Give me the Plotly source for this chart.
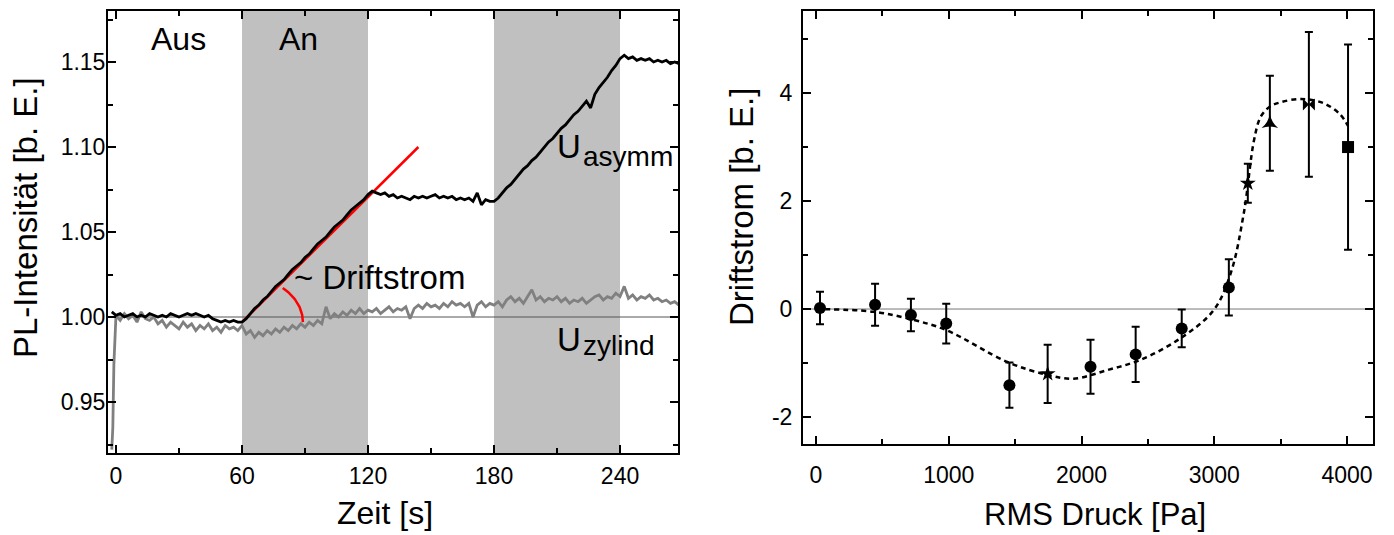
import numpy as np
import plotly.graph_objects as go

W, H = 1394, 535

# ---------------- Left panel data ----------------
zeit_x_ticks = [0, 60, 120, 180, 240]
on_phases = [(60, 120), (180, 240)]

t_asym = list(range(-2, 270, 2))
u_asym = [1.003, 1.001, 1.002, 1.000, 1.001, 1.002, 1.000, 1.001, 1.000, 1.002,
          1.001, 1.000, 1.001, 1.000, 1.002, 1.001, 1.000, 1.001, 1.002, 1.001,
          1.002, 1.001, 1.000, 1.001, 0.999, 0.998, 0.997, 0.998, 0.997, 0.998,
          0.997, 0.997, 0.999, 1.002, 1.005, 1.007, 1.010, 1.012, 1.015, 1.018,
          1.020, 1.022, 1.025, 1.028, 1.030, 1.032, 1.035, 1.037, 1.040, 1.043,
          1.045, 1.047, 1.050, 1.053, 1.055, 1.057, 1.060, 1.063, 1.065, 1.067,
          1.069, 1.072, 1.074, 1.073, 1.072, 1.073, 1.071, 1.072, 1.070, 1.071,
          1.070, 1.069, 1.071, 1.070, 1.071, 1.070, 1.071, 1.072, 1.070, 1.071,
          1.070, 1.071, 1.069, 1.070, 1.069, 1.070, 1.068, 1.073, 1.066, 1.069,
          1.068, 1.068, 1.070, 1.073, 1.076, 1.078, 1.081, 1.084, 1.087, 1.089,
          1.092, 1.094, 1.097, 1.100, 1.103, 1.105, 1.108, 1.111, 1.113, 1.116,
          1.119, 1.121, 1.124, 1.127, 1.123, 1.131, 1.135, 1.138, 1.141, 1.145,
          1.148, 1.152, 1.154, 1.152, 1.153, 1.151, 1.152, 1.151, 1.152, 1.150,
          1.151, 1.150, 1.151, 1.149, 1.150, 1.149]

t_zyl = [-2.0, -1.5, -1.0, -0.5] + list(range(0, 270, 2))
u_zyl = [0.922, 0.935, 0.972, 0.993,
         1.001, 0.998, 1.002, 0.999, 1.001, 0.997, 1.003, 0.999, 0.998, 1.000,
         0.996, 0.998, 0.994, 0.997, 0.995, 0.993, 0.997, 0.994, 0.996, 0.992,
         0.995, 0.993, 0.996, 0.992, 0.994, 0.991, 0.995, 0.993, 0.994, 0.992,
         0.995, 0.990, 0.992, 0.988, 0.991, 0.989, 0.992, 0.990, 0.993, 0.991,
         0.994, 0.992, 0.995, 0.993, 0.996, 0.994, 0.997, 0.995, 0.998, 0.996,
         1.006, 0.999, 1.002, 1.000, 1.003, 1.001, 1.004, 1.002, 1.005, 1.002,
         1.004, 1.003, 1.005, 1.002, 1.004, 1.006, 1.003, 1.005, 1.004, 1.006,
         0.999, 1.005, 1.007, 1.005, 1.008, 1.006, 1.007, 1.005, 1.008, 1.006,
         1.009, 1.007, 1.008, 1.006, 1.008, 1.000, 1.007, 1.009, 1.006, 1.008,
         1.007, 1.009, 1.006, 1.010, 1.012, 1.009, 1.011, 1.008, 1.012, 1.016,
         1.010, 1.012, 1.009, 1.011, 1.010, 1.012, 1.009, 1.011, 1.008, 1.010,
         1.009, 1.011, 1.008, 1.010, 1.012, 1.013, 1.010, 1.012, 1.011, 1.014,
         1.012, 1.018, 1.011, 1.013, 1.010, 1.012, 1.011, 1.013, 1.010, 1.011,
         1.009, 1.010, 1.008, 1.009, 1.007]

# red tangent line (start, end) and the angle arc around its start
fit_line_t = [60, 144]
fit_line_u = [0.997, 1.100]
arc_rx, arc_ry, arc_deg = 29.0, 0.027, 48.0

# ---------------- Right panel data ----------------
druck = [30, 445, 715, 981, 1457, 1745, 2068, 2408, 2755, 3110, 3253, 3419, 3713, 4008]
drift = [0.02, 0.08, -0.11, -0.27, -1.41, -1.20, -1.07, -0.84, -0.36, 0.40, 2.33, 3.44, 3.79, 3.00]
drift_err = [0.30, 0.39, 0.30, 0.37, 0.42, 0.54, 0.50, 0.51, 0.35, 0.52, 0.36, 0.88, 1.34, 1.90]
symbols = ['circle'] * 5 + ['star'] + ['circle'] * 4 + ['star', 'star-triangle-up', 'bowtie', 'square']

drift_y_ticks = [-2, 0, 2, 4]
drift_y_labels = ['-2', '0', '2', '4']

fit_p = [0, 430, 732, 981, 1441, 1743, 1940, 2196, 2445, 2747, 2996, 3125, 3223, 3300,
         3350, 3420, 3502, 3653, 3826, 3950, 4008]
fit_d = [0.0, -0.05, -0.20, -0.39, -0.98, -1.22, -1.29, -1.13, -0.94, -0.54, -0.02, 0.67,
         1.78, 3.13, 3.56, 3.75, 3.83, 3.89, 3.81, 3.60, 3.39]

FONT = "Liberation Sans, Arial, sans-serif"

fig = go.Figure()

# left traces
fig.add_trace(go.Scatter(x=[-10, 280], y=[1.0, 1.0], mode='lines',
                         line=dict(color='#555555', width=1), xaxis='x', yaxis='y', hoverinfo='skip'))
fig.add_trace(go.Scatter(x=t_zyl, y=u_zyl, mode='lines',
                         line=dict(color='#808080', width=2.8), xaxis='x', yaxis='y'))
fig.add_trace(go.Scatter(x=fit_line_t, y=fit_line_u, mode='lines',
                         line=dict(color='#ff0000', width=2.5), xaxis='x', yaxis='y'))
fig.add_trace(go.Scatter(x=t_asym, y=u_asym, mode='lines',
                         line=dict(color='black', width=2.8), xaxis='x', yaxis='y'))
ang = np.linspace(0, np.deg2rad(arc_deg), 40)
fig.add_trace(go.Scatter(x=fit_line_t[0] + arc_rx * np.cos(ang),
                         y=fit_line_u[0] + arc_ry * np.sin(ang), mode='lines',
                         line=dict(color='#ff0000', width=2.5), xaxis='x', yaxis='y'))

# right traces
fig.add_trace(go.Scatter(x=[-200, 4300], y=[0, 0], mode='lines',
                         line=dict(color='#777777', width=1), xaxis='x2', yaxis='y2', hoverinfo='skip'))
fig.add_trace(go.Scatter(x=fit_p, y=fit_d, mode='lines',
                         line=dict(color='black', width=2.5, dash='5px,4px', shape='spline'),
                         xaxis='x2', yaxis='y2'))
fig.add_trace(go.Scatter(x=druck, y=drift, mode='markers',
                         marker=dict(color='black', size=12, symbol=symbols),
                         error_y=dict(type='data', array=drift_err, color='black', thickness=2, width=4),
                         xaxis='x2', yaxis='y2'))

shapes = []
for a, b in on_phases:
    shapes.append(dict(type='rect', xref='x', yref='y domain', x0=a, x1=b, y0=0, y1=1,
                       fillcolor='#c0c0c0', line=dict(width=0), layer='below'))

def px(v):
    return v / W

def py(v):
    return 1 - v / H

axis_common = dict(showline=True, linecolor='black', linewidth=2, mirror='allticks',
                   ticks='inside', ticklen=8, tickwidth=2, tickcolor='black',
                   showgrid=False, zeroline=False,
                   tickfont=dict(family=FONT, size=23, color='black'))

fig.update_layout(
    width=W, height=H, margin=dict(l=0, r=0, t=0, b=0),
    paper_bgcolor='white', plot_bgcolor='white', showlegend=False,
    shapes=shapes,
    xaxis=dict(domain=[px(108), px(678)], range=[-3.8, 267.6], anchor='y',
               tickvals=zeit_x_ticks, minor=dict(dtick=30, tick0=0, ticklen=5, tickwidth=2,
                                                 tickcolor='black', ticks='inside'),
               ticklabelstandoff=1, **axis_common),
    yaxis=dict(domain=[py(453), py(11)], range=[0.92, 1.18], anchor='x',
               tick0=0.95, dtick=0.05, tickformat='.2f',
               minor=dict(dtick=0.025, tick0=0.925, ticklen=5, tickwidth=2,
                          tickcolor='black', ticks='inside'),
               ticklabelstandoff=-4, **axis_common),
    xaxis2=dict(domain=[px(803), px(1373)], range=[-98, 4196], anchor='y2',
                tick0=0, dtick=1000,
                minor=dict(dtick=500, tick0=0, ticklen=5, tickwidth=2,
                           tickcolor='black', ticks='inside'),
                ticklabelstandoff=9, **axis_common),
    yaxis2=dict(domain=[py(444), py(11)], range=[-2.5, 5.52], anchor='x2',
                tickvals=drift_y_ticks, ticktext=drift_y_labels,
                minor=dict(dtick=1, tick0=-3, ticklen=5, tickwidth=2,
                           tickcolor='black', ticks='inside'),
                ticklabelstandoff=4, **axis_common),
)

def ann(text, x, y, size, xref='paper', yref='paper', xanchor='center', yanchor='middle', angle=0):
    fig.add_annotation(text=text, x=x, y=y, xref=xref, yref=yref, xanchor=xanchor,
                       yanchor=yanchor, showarrow=False, textangle=angle, borderpad=0,
                       font=dict(family=FONT, size=size, color='black'))

# axis titles
ann('PL-Intensität [b. E.]', px(25), py(218), 33, angle=-90)
ann('Zeit [s]', px(385), py(513), 32)
ann('Driftstrom [b. E.]', px(741), py(207), 33, angle=-90)
ann('RMS Druck [Pa]', px(1095), py(514), 31)

# in-plot labels (data coordinates, left panel)
ann('Aus', 30, 1.1638, 32, xref='x', yref='y')
ann('An', 86.7, 1.1638, 32, xref='x', yref='y')
ann('~ Driftstrom', 84.3, 1.023, 33, xref='x', yref='y', xanchor='left')
ann('U', 222, 1.1005, 33, xref='x', yref='y', xanchor='right')
ann('asymm', 222, 1.0945, 28, xref='x', yref='y', xanchor='left')
ann('U', 222, 0.987, 33, xref='x', yref='y', xanchor='right')
ann('zylind', 222, 0.9835, 28, xref='x', yref='y', xanchor='left')

fig.write_html("out.html", config={'displayModeBar': False},
               post_script="document.body.style.margin='0px';")
